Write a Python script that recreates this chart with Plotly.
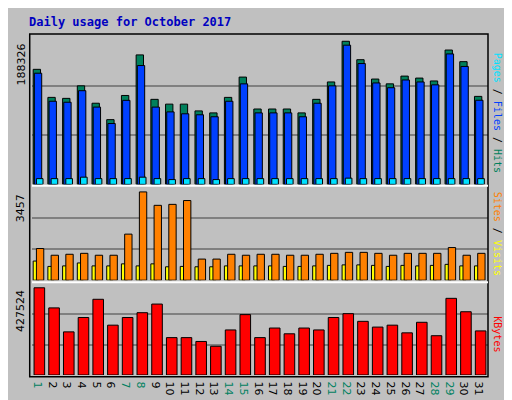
import plotly.graph_objects as go

days = [str(d) for d in range(1, 32)]
hits = [151400,114500,113200,129700,106800,85200,117000,170400,111900,105600,105600,96700,94100,114500,141200,
        99200,99200,99200,94100,111900,134800,188326,164100,138600,132300,142500,139900,136100,176800,161500,115800]
files = [146300,109400,108100,123300,101700,80100,110600,156400,101700,95400,92900,91600,89000,109400,132300,
         94100,94100,94100,89000,106800,129700,183200,159000,133500,127200,137400,134800,131000,171700,155200,110700]
pages = [7600,7600,7600,9500,7600,7600,7600,9500,7600,6300,7600,7600,6300,7600,7600,
         7600,7600,7600,7600,7600,7600,8200,7600,7600,7600,7600,7600,7600,7600,7600,7600]
visits = [1240,977,1015,1052,977,977,1804,3457,2931,2969,3119,827,827,1015,977,
          1015,1015,977,977,1015,1052,1090,1090,1052,977,1052,1052,1052,1278,977,1052]
sites = [750,540,560,675,560,560,640,560,640,525,540,525,525,560,560,
         560,560,540,540,560,580,600,600,580,540,580,560,580,620,560,560]
kbytes = [427524,328900,211400,281900,371100,244300,281900,305400,347700,183200,183200,164400,140900,220800,296000,
          183200,230200,202000,230200,220800,281900,300700,263100,234900,244300,206700,258400,192600,375800,310100,216100]
weekend = {1,7,8,14,15,21,22,28,29}

x = list(range(1, 32))
line = dict(color="black", width=1)
fig = go.Figure()
def bar(y, color, off, w, ax):
    fig.add_trace(go.Bar(x=x, y=y, marker=dict(color=color, line=line), offset=off, width=w,
                         xaxis="x", yaxis=ax, hoverinfo="skip"))
bar(hits, "#00805c", -0.42, 0.5, "y")
bar(files, "#0040ff", -0.34, 0.5, "y")
bar(pages, "#00e0ff", -0.2, 0.45, "y")
bar(sites, "#ffff00", -0.42, 0.4, "y2")
bar(visits, "#ff8000", -0.2, 0.5, "y2")
bar(kbytes, "#ff0000", -0.36, 0.72, "y3")

r1 = max(hits) * 152 / 148
r2 = max(visits) * 97 / 92
r3 = max(kbytes) * 95 / 91
def yax(r, dom):
    return dict(domain=dom, range=[0, r], tickvals=[r/3, 2*r/3], showticklabels=False,
                gridcolor="#808080", gridwidth=1.5, zeroline=False, showline=False, fixedrange=True, ticks="")
ticktext = [f"<span style='color:{'#008060' if d in weekend else 'black'}'>{d}</span>" for d in x]
fig.update_layout(
    width=512, height=400, barmode="overlay", showlegend=False,
    paper_bgcolor="#c0c0c0", plot_bgcolor="#c0c0c0",
    margin=dict(l=24, r=32, t=26, b=24),
    font=dict(family="DejaVu Sans Mono", size=11, color="black"),
    xaxis=dict(range=[0.5, 31.5], tickvals=x, ticktext=ticktext, showgrid=False, ticks="",
               anchor="y3", showline=False, tickfont=dict(family="DejaVu Sans", size=11)),
    yaxis=yax(r1, [0.559, 0.99]),
    yaxis2=yax(r2, [0.278, 0.551]),
    yaxis3=yax(r3, [0.0, 0.267]),
    shapes=[
        dict(type="rect", xref="paper", yref="paper", x0=-0.005, x1=1.0, y0=-0.005, y1=1.0,
             line=dict(color="black", width=1.5)),
        dict(type="line", xref="paper", yref="paper", x0=0, x1=1, y0=0.555, y1=0.555, line=dict(color="white", width=2)),
        dict(type="line", xref="paper", yref="paper", x0=0, x1=1, y0=0.272, y1=0.272, line=dict(color="white", width=2)),
    ],
    annotations=[
        dict(text="<b>Daily usage for October 2017</b>", xref="paper", yref="paper", x=-0.01, y=1.01,
             xanchor="left", yanchor="bottom", showarrow=False,
             font=dict(family="DejaVu Sans Mono", size=12, color="#0000c0")),
        dict(text=str(max(hits)), xref="paper", yref="y", x=-0.005, y=max(hits), textangle=-90,
             xanchor="right", yanchor="top", showarrow=False, font=dict(size=11, family="DejaVu Sans")),
        dict(text=str(max(visits)), xref="paper", yref="y2", x=-0.005, y=max(visits), textangle=-90,
             xanchor="right", yanchor="top", showarrow=False, font=dict(size=11, family="DejaVu Sans")),
        dict(text=str(max(kbytes)), xref="paper", yref="y3", x=-0.005, y=max(kbytes), textangle=-90,
             xanchor="right", yanchor="top", showarrow=False, font=dict(size=11, family="DejaVu Sans")),
        dict(text="<span style='color:#00e0ff'>Pages</span> / <span style='color:#0040ff'>Files</span> / <span style='color:#00805c'>Hits</span>",
             xref="paper", yref="paper", x=1.005, y=0.77, textangle=90, xanchor="left", yanchor="middle",
             showarrow=False, font=dict(family="DejaVu Sans Mono", size=10)),
        dict(text="<span style='color:#ff8000'>Sites</span> / <span style='color:#ffff00'>Visits</span>",
             xref="paper", yref="paper", x=1.005, y=0.415, textangle=90, xanchor="left", yanchor="middle",
             showarrow=False, font=dict(family="DejaVu Sans Mono", size=10)),
        dict(text="<span style='color:#ff0000'>KBytes</span>",
             xref="paper", yref="paper", x=1.005, y=0.12, textangle=90, xanchor="left", yanchor="middle",
             showarrow=False, font=dict(family="DejaVu Sans Mono", size=10)),
    ],
)
fig.write_html("out.html")
